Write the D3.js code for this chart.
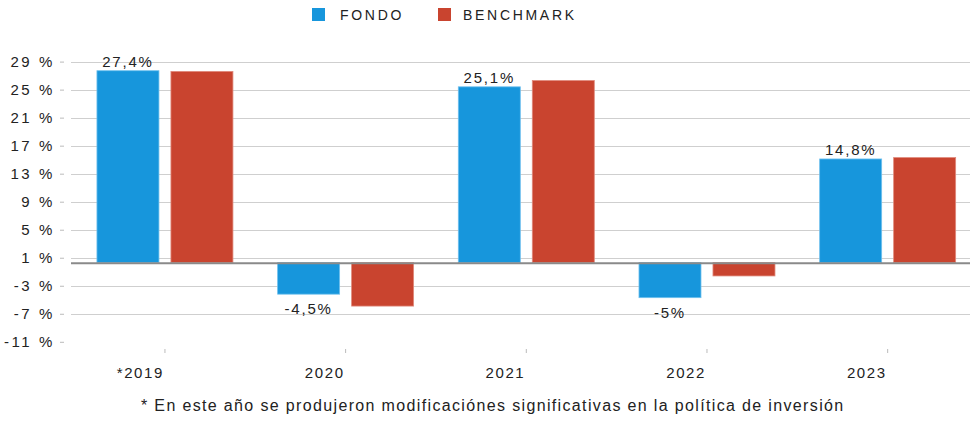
<!DOCTYPE html>
<html>
<head>
<meta charset="utf-8">
<script src="https://cdn.jsdelivr.net/npm/d3@7"></script>
<style>
  body { margin: 0; background: #fff; }
  svg text { font-family: "Liberation Sans", Arial, sans-serif; fill: #222; }
</style>
</head>
<body>
<div id="canvas"></div>
<script>
const years = ["*2019", "2020", "2021", "2022", "2023"];
const series = ["FONDO", "BENCHMARK"];
const fondo = [27.4, -4.5, 25.1, -5, 14.8];
const benchmark = [27.3, -6.2, 26.0, -1.9, 15.0];
const fondoLabels = ["27,4%", "-4,5%", "25,1%", "-5%", "14,8%"];
const tickValues = [-11.3, -7.3, -3.3, 0.7, 4.7, 8.7, 12.7, 16.7, 20.7, 24.7, 28.7];
const tickLabels = ["-11 %", "-7 %", "-3 %", "1 %", "5 %", "9 %", "13 %", "17 %", "21 %", "25 %", "29 %"];
const footnote = "* En este año se produjeron modificaciónes significativas en la política de inversión";

const colors = { FONDO: "#1796dc", BENCHMARK: "#c9442f" };
const strokes = { FONDO: "#6fc0ee", BENCHMARK: "#e08a7c" };

const width = 973, height = 421;
const svg = d3.select("#canvas").append("svg")
    .attr("width", width)
    .attr("height", height);

const y = d3.scaleLinear()
    .domain([-11.3, 28.7])
    .range([341.8, 61.6]);

const x0 = d3.scaleBand()
    .domain(years)
    .range([74.6, 978]);

const x1 = d3.scaleBand()
    .domain(series)
    .range([0, x0.bandwidth()])
    .paddingInner(0.162)
    .paddingOuter(0.302);

// grid lines
const grid = svg.append("g");
grid.selectAll("line")
    .data(tickValues.filter(t => t > -11))
    .enter().append("line")
    .attr("x1", 71).attr("x2", 970)
    .attr("y1", d => Math.round(y(d)) + 0.5)
    .attr("y2", d => Math.round(y(d)) + 0.5)
    .attr("stroke", "#cfcfcf");

// y axis
const yAxis = svg.append("g")
    .attr("transform", "translate(64,0)")
    .call(d3.axisLeft(y).tickValues(tickValues)
        .tickFormat((d, i) => tickLabels[i]).tickSize(4).tickPadding(8));
yAxis.select(".domain").remove();
yAxis.selectAll(".tick line").attr("stroke", "#bbb");
yAxis.selectAll(".tick text")
    .style("font-size", "15px")
    .style("letter-spacing", "2.6px")
    .attr("x", -9)
    .attr("fill", "#222");

// bars
const groups = svg.append("g").selectAll("g")
    .data(years)
    .enter().append("g")
    .attr("transform", d => `translate(${x0(d)},0)`);

groups.selectAll("rect")
    .data((d, i) => [
        { key: "FONDO", value: fondo[i] },
        { key: "BENCHMARK", value: benchmark[i] }
    ])
    .enter().append("rect")
    .attr("x", d => x1(d.key))
    .attr("width", x1.bandwidth())
    .attr("y", d => y(Math.max(0, d.value)))
    .attr("height", d => Math.abs(y(d.value) - y(0)))
    .attr("fill", d => colors[d.key])
    .attr("stroke", d => strokes[d.key])
    .attr("stroke-width", 0.8);

// zero line
svg.append("line")
    .attr("x1", 71).attr("x2", 970)
    .attr("y1", y(0) + 0.5).attr("y2", y(0) + 0.5)
    .attr("stroke", "#8a8a8a")
    .attr("stroke-width", 2);

// value labels for FONDO
groups.append("text")
    .attr("x", x1("FONDO") + x1.bandwidth() / 2)
    .attr("y", (d, i) => fondo[i] >= 0 ? y(fondo[i]) - 4 : y(fondo[i]) + 20)
    .attr("text-anchor", "middle")
    .style("font-size", "15px")
    .style("letter-spacing", "1.8px")
    .text((d, i) => fondoLabels[i]);

// x axis
const xAxis = svg.append("g")
    .attr("transform", "translate(0,349)")
    .call(d3.axisBottom(x0).tickSize(4).tickPadding(14));
xAxis.select(".domain").remove();
xAxis.selectAll(".tick line").attr("stroke", "#bbb");
xAxis.selectAll(".tick text")
    .attr("text-anchor", "end")
    .attr("x", -1)
    .style("font-size", "15px")
    .style("letter-spacing", "1.6px")
    .attr("fill", "#222");

// legend
const legendX = [312, 438];
const legend = svg.append("g").selectAll("g")
    .data(series)
    .enter().append("g")
    .attr("transform", (d, i) => `translate(${legendX[i]},8)`);
legend.append("rect")
    .attr("width", 13).attr("height", 13)
    .attr("fill", d => colors[d]);
legend.append("text")
    .attr("x", (d, i) => i === 0 ? 28 : 25).attr("y", 12)
    .style("font-size", "14px")
    .style("letter-spacing", "2.7px")
    .text(d => d);

// footnote
svg.append("text")
    .attr("x", 141).attr("y", 411)
    .style("font-size", "16px")
    .style("letter-spacing", "1.35px")
    .text(footnote);
</script>
</body>
</html>
